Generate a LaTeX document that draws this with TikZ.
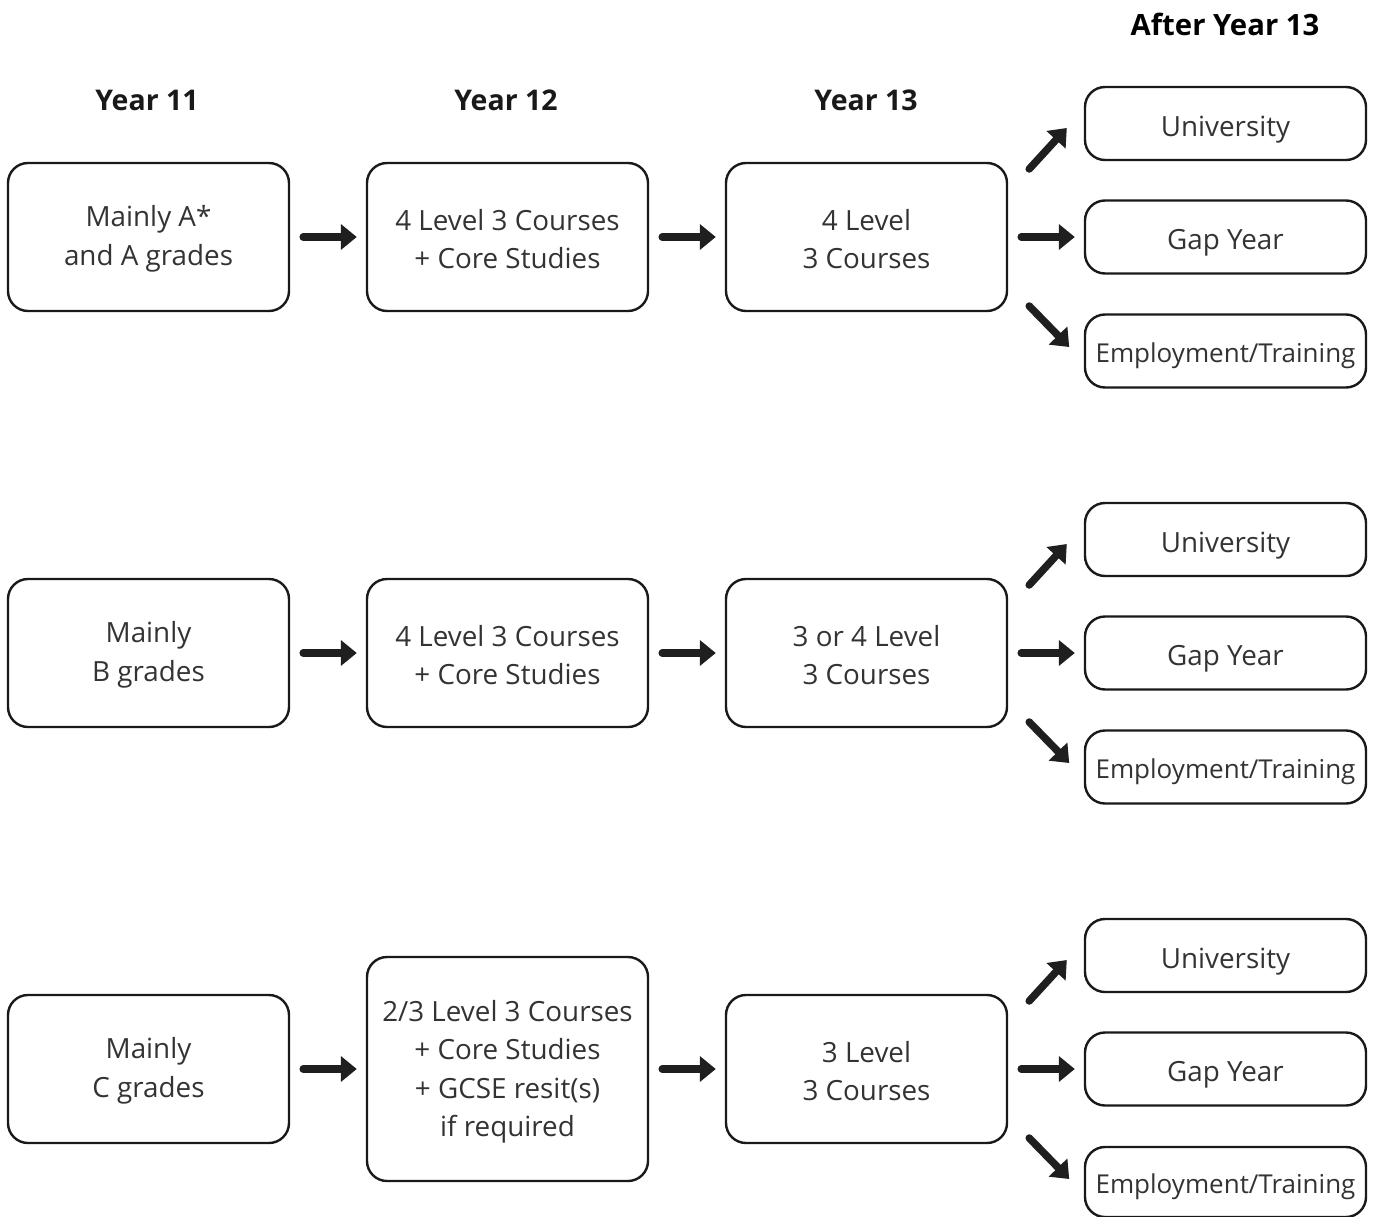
\documentclass[tikz,border=0pt]{standalone}
\usepackage{fontspec}
\setmainfont{Open Sans}
\usetikzlibrary{arrows.meta,calc}
\begin{document}
\begin{tikzpicture}[x=1pt,y=-1pt,
  box/.style={draw=black!90,line width=2.4pt,rounded corners=20pt,inner sep=0pt},
  boxtext/.style={align=center,font=\fontsize{27.8}{38.5}\selectfont,text=black!80,inner sep=0pt},
  head/.style={font=\fontsize{28.5}{32}\selectfont\bfseries\color{black!90}},
  arr/.style={line width=7.5pt,line cap=round,draw=black!88,
    -{Triangle[length=16pt,width=25pt]}}]
\useasboundingbox (0,0) rectangle (1375,1217);
\newcommand{\bx}[7][-2]{\node[box,minimum width=#5pt,minimum height=#6pt] (#2) at (#3,#4) {};
  \node[boxtext] (#2t) at ([yshift=#1pt]#2.center) {#7};}
\newcommand{\ebx}[4]{\node[box,minimum width=281pt,minimum height=#4pt] (#1) at (#2,#3) {};
  \node[boxtext,font=\fontsize{26}{38}\selectfont] (#1t) at ([yshift=-5pt]#1.center) {Employment/Training};}
\node[head] (h11) at (147,100) {Year 11};
\node[head] (h12) at (506,100) {Year 12};
\node[head] (h13) at (866,100) {Year 13};
\node[head,font=\fontsize{29.3}{32}\selectfont\bfseries] (hA) at (1225,24) {After Year 13};
% row 1
\bx{a1}{148.5}{237}{281}{148}{Mainly A*\\and A grades}
\bx{a2}{507.5}{237}{281}{148}{4 Level 3 Courses\\+ Core Studies}
\bx{a3}{866.5}{237}{281}{148}{4 Level\\3 Courses}
\bx[-6]{au}{1225.5}{123.5}{281}{73}{University}
\bx[-6]{ag}{1225.5}{237}{281}{73}{Gap Year}
\ebx{ae}{1225.5}{351}{73}
% row 2
\bx{b1}{148.5}{653}{281}{148}{Mainly\\B grades}
\bx{b2}{507.5}{653}{281}{148}{4 Level 3 Courses\\+ Core Studies}
\bx{b3}{866.5}{653}{281}{148}{3 or 4 Level\\3 Courses}
\bx[-6]{bu}{1225.5}{539.5}{281}{73}{University}
\bx[-6]{bg}{1225.5}{653}{281}{73}{Gap Year}
\ebx{be}{1225.5}{767}{73}
% row 3
\bx{c1}{148.5}{1069}{281}{148}{Mainly\\C grades}
\bx[-3]{c2}{507.5}{1069}{281}{224}{2/3 Level 3 Courses\\+ Core Studies\\+ GCSE resit(s)\\if required}
\bx{c3}{866.5}{1069}{281}{148}{3 Level\\3 Courses}
\bx[-6]{cu}{1225.5}{955.5}{281}{73}{University}
\bx[-6]{cg}{1225.5}{1069}{281}{73}{Gap Year}
\ebx{ce}{1225.5}{1182}{70}
% arrows
\foreach \r in {a,b,c}{
  \draw[arr] ($(\r1.east)+(13,0)$) -- ($(\r2.west)+(-9,0)$);
  \draw[arr] ($(\r2.east)+(13,0)$) -- ($(\r3.west)+(-9,0)$);
  \draw[arr] ($(\r3.east)+(13,0)$) -- ($(\r g.west)+(-9,0)$);
  \draw[arr] ($(\r3.east)+(21,-68)$) -- ($(\r u.west)+(-17,4.5)$);
  \draw[arr] ($(\r3.east)+(21,69)$) -- ($(\r3.east)+(61,110)$);
}
\end{tikzpicture}
\end{document}
